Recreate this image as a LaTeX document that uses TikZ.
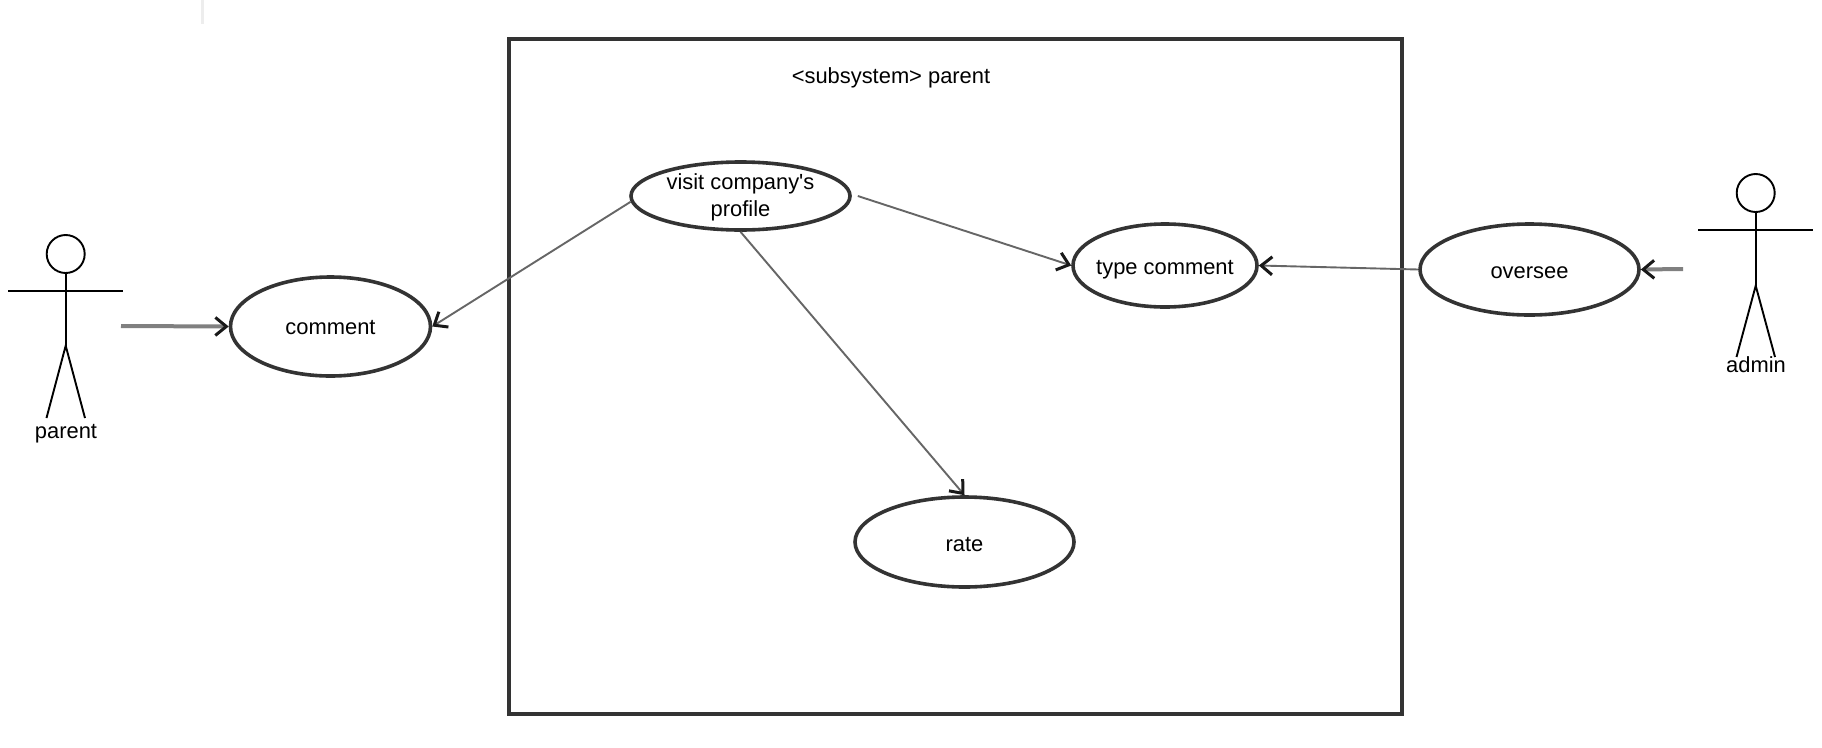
\documentclass[tikz,border=0pt]{standalone}
\usepackage{fontspec}
\setmainfont{Liberation Sans}
\newfontfamily\plainfont{Liberation Sans}
\usetikzlibrary{shapes.geometric,arrows.meta}
\definecolor{dk}{HTML}{333333}
\tikzset{
  x=1pt,y=-1pt,
  usecase/.style={draw=dk,line width=3.6pt,ellipse,inner sep=0pt,fill=white,font=\fontsize{21.9}{26.7}\selectfont,text=black},
  lbl/.style={inner sep=0pt,font=\fontsize{21.9}{25}\selectfont,text=black},
  stick/.style={draw=black,line width=1.9pt},
  tip/.style={-{Straight Barb[color=black!90,length=11pt,width=18pt,line width=3pt]}},
  thin conn/.style={tip,draw=black!60,line width=1.9pt},
  thick conn/.style={tip,draw=black!50,line width=4pt},
}
\begin{document}
\begin{tikzpicture}
\useasboundingbox (0,0) rectangle (1822,747);
\fill[white] (0,0) rectangle (1822,747);
\fill[black!7] (201,0) rectangle (204,24);
\node[draw=dk,line width=4pt,minimum width=893pt,minimum height=675pt,inner sep=0pt] (frame) at (955.5,376.5) {};
\node[lbl,anchor=base] (title) at (891,83) {<subsystem> parent};
\node[usecase,minimum width=219pt,minimum height=68pt] (visit) at (740.5,196) {\raisebox{6.5pt}[0pt][0pt]{\makebox[0pt]{\begin{tabular}[t]{@{}c@{}}visit company{\plainfont'}s\\profile\end{tabular}}}};
\node[usecase,minimum width=200pt,minimum height=99pt,text height=16pt,text depth=0pt] (comment) at (330.5,326.5) {\makebox[0pt]{comment}};
\node[usecase,minimum width=184pt,minimum height=83pt,text height=18pt,text depth=0pt] (type) at (1165,265.5) {\makebox[0pt]{type comment}};
\node[usecase,minimum width=219pt,minimum height=91pt,text height=17pt,text depth=0pt] (oversee) at (1529.5,269.5) {\makebox[0pt]{oversee}};
\node[usecase,minimum width=219pt,minimum height=90pt,text height=19pt,text depth=0pt] (rate) at (964.5,542) {\makebox[0pt]{rate}};
% actor parent
\node[draw=black,line width=1.9pt,circle,minimum size=38pt,inner sep=0pt] (phead) at (65.7,254) {};
\coordinate (phip) at (65.7,345.7);
\draw[stick] (phead.south) -- (phip);
\draw[stick] (8,290.7) -- (123,290.7);
\draw[stick] (46.5,418) -- (phip) -- (85,418);
\node[lbl] (plabel) at (66,434) {parent};
\coordinate (pout) at (121,326);
% actor admin
\node[draw=black,line width=1.9pt,circle,minimum size=38pt,inner sep=0pt] (ahead) at (1755.7,193) {};
\coordinate (ahip) at (1755.7,285.7);
\draw[stick] (ahead.south) -- (ahip);
\draw[stick] (1698,230) -- (1813,230);
\draw[stick] (1736.5,357) -- (ahip) -- (1775,357);
\node[lbl] (alabel) at (1756,365) {admin};
\coordinate (aout) at (1683,269);
% connectors
\draw[thick conn] (pout) -- (comment.west);
\draw[thick conn] (aout) -- (oversee.east);
\draw[thin conn] (visit.183) -- (comment.east);
\draw[thin conn] ([xshift=6pt]visit.east) -- (type.west);
\draw[thin conn] (visit.south) -- (rate.north);
\draw[thin conn] (oversee.west) -- (type.east);
\end{tikzpicture}
\end{document}
